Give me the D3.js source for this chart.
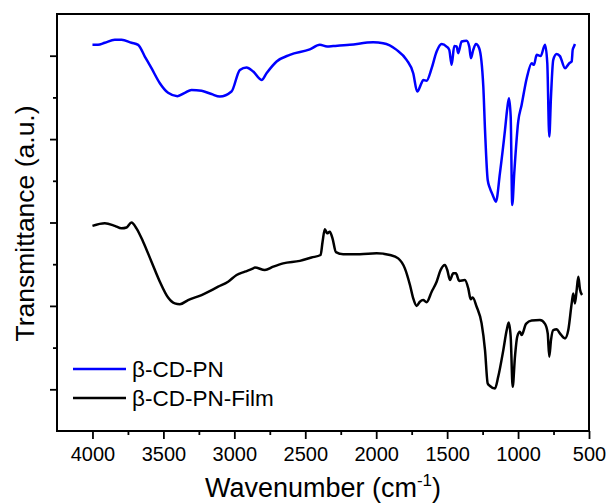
<!DOCTYPE html>
<html>
<head>
<meta charset="utf-8">
<script src="https://cdn.jsdelivr.net/npm/d3@7"></script>
<style>
  body { margin: 0; background: #fff; }
  svg { font-family: "Liberation Sans", Arial, sans-serif; }
</style>
</head>
<body>
<svg id="chart" width="609" height="504"></svg>
<script>
// FTIR spectra, wavenumber (cm-1) vs transmittance (arbitrary, offset)
const pnWave = [4000, 3961, 3913, 3843, 3795, 3725, 3678, 3631, 3584, 3525, 3467, 3401, 3349, 3302, 3231, 3161, 3102, 3020, 2961, 2914, 2867, 2808, 2773, 2702, 2609, 2468, 2397, 2346, 2303, 2186, 2021, 1951, 1856, 1786, 1739, 1711, 1680, 1669, 1645, 1609, 1574, 1539, 1504, 1485, 1468, 1450, 1433, 1422, 1398, 1363, 1344, 1332, 1316, 1297, 1274, 1245, 1233, 1214, 1198, 1179, 1156, 1128, 1092, 1076, 1064, 1052, 1041, 1027, 999, 975, 939, 904, 888, 869, 841, 810, 794, 780, 768, 752, 728, 705, 669, 639, 622, 615, 606, 599];
const pnTrans = [92.6, 92.6, 93.1, 93.8, 93.8, 93.1, 92.6, 89.8, 87.0, 83.4, 81.1, 80.3, 81.1, 81.8, 81.6, 80.8, 80.2, 81.4, 86.6, 87.2, 86.2, 84.2, 85.8, 88.6, 90.2, 91.5, 92.6, 92.2, 92.3, 92.6, 93.2, 93.0, 91.4, 89.0, 85.8, 81.4, 83.5, 84.2, 84.0, 87.0, 91.0, 92.8, 92.2, 91.4, 87.8, 92.3, 92.2, 90.6, 93.4, 93.6, 92.2, 89.4, 91.4, 92.8, 91.8, 82.6, 72.2, 60.2, 58.2, 56.6, 55.0, 61.8, 72.2, 77.4, 79.8, 75.4, 54.2, 61.8, 74.2, 78.2, 84.6, 88.2, 87.8, 90.2, 89.9, 92.6, 88.2, 70.6, 80.2, 89.0, 90.4, 89.9, 87.0, 88.2, 88.6, 91.4, 92.2, 92.8];

const filmWave = [4000, 3913, 3843, 3795, 3760, 3725, 3690, 3643, 3584, 3525, 3467, 3420, 3384, 3326, 3231, 3114, 3044, 2984, 2926, 2867, 2855, 2785, 2726, 2656, 2538, 2456, 2392, 2378, 2362, 2346, 2327, 2308, 2284, 2233, 2115, 1997, 1903, 1845, 1798, 1762, 1739, 1715, 1692, 1669, 1645, 1609, 1574, 1546, 1516, 1499, 1480, 1457, 1438, 1415, 1375, 1351, 1334, 1320, 1292, 1257, 1233, 1214, 1198, 1163, 1140, 1104, 1080, 1066, 1052, 1038, 1022, 1006, 987, 975, 944, 904, 846, 810, 791, 780, 768, 752, 728, 705, 669, 646, 622, 611, 599, 587, 575, 564, 549];
const filmTrans = [49.2, 49.8, 49.2, 48.6, 48.8, 50.0, 48.6, 45.4, 40.6, 35.8, 32.0, 30.6, 30.4, 31.4, 32.6, 34.6, 35.8, 37.4, 38.2, 39.0, 39.2, 38.6, 39.4, 40.2, 40.8, 41.6, 42.2, 45.4, 48.4, 47.4, 47.8, 46.2, 42.9, 42.4, 42.4, 42.6, 42.2, 41.4, 39.0, 35.0, 31.8, 30.0, 31.0, 31.4, 30.9, 33.4, 35.8, 38.6, 39.8, 38.6, 36.2, 37.8, 37.8, 36.0, 36.2, 34.2, 31.6, 32.0, 29.8, 25.8, 19.4, 11.4, 10.8, 10.2, 13.0, 19.4, 24.2, 26.0, 22.6, 10.6, 17.8, 22.6, 23.8, 23.0, 25.7, 26.5, 26.6, 25.7, 23.4, 17.8, 21.8, 24.2, 24.4, 23.4, 22.2, 24.2, 30.6, 33.0, 30.6, 33.8, 37.0, 34.0, 32.6];

const seriesNames = ["β-CD-PN", "β-CD-PN-Film"];
const seriesColors = ["#0000ff", "#000000"];
const xMajorTicks = [4000, 3500, 3000, 2500, 2000, 1500, 1000, 500];

margin = { left: 57, right: 20, top: 14, bottom: 73 };
width = 609, height = 504;

const svg = d3.select("#chart");

const x = d3.scaleLinear()
    .domain([4250, 500])
    .range([margin.left, width - margin.right]);

const y = d3.scaleLinear()
    .domain([0, 100])
    .range([height - margin.bottom, margin.top]);

// 次刻度 (minor ticks)
const xMinor = d3.range(4250, 500, -250).filter(v => !xMajorTicks.includes(v) && v < 4250);
const yMajor = [10, 30, 50, 70, 90];
const yMinor = [20, 40, 60, 80];

const xAxis = svg.append("g")
    .attr("transform", `translate(0, ${y(0)})`)
    .call(d3.axisBottom(x).tickValues(xMajorTicks).tickSize(8).tickPadding(8).tickFormat(d3.format("d")));
svg.append("g")
    .attr("transform", `translate(0, ${y(0)})`)
    .call(d3.axisBottom(x).tickValues(xMinor).tickSize(4).tickFormat(""));

svg.append("g")
    .attr("transform", `translate(${x(4250)}, 0)`)
    .call(d3.axisLeft(y).tickValues(yMajor).tickSize(7).tickFormat(""));
svg.append("g")
    .attr("transform", `translate(${x(4250)}, 0)`)
    .call(d3.axisLeft(y).tickValues(yMinor).tickSize(4).tickFormat(""));

svg.selectAll(".domain").remove();
svg.selectAll(".tick line").attr("stroke", "#000").attr("stroke-width", 1.8);
xAxis.selectAll("text")
    .style("font-size", "20px")
    .style("font-family", "Liberation Sans, Arial, sans-serif")
    .attr("fill", "#000");

// frame
svg.append("rect")
    .attr("x", x(4250))
    .attr("y", y(100))
    .attr("width", x(500) - x(4250))
    .attr("height", y(0) - y(100))
    .attr("fill", "none")
    .attr("stroke", "#000")
    .attr("stroke-width", 2);

const line = d3.line()
    .x(d => x(d[0]))
    .y(d => y(d[1]))
    .curve(d3.curveMonotoneX);

const series = [
    d3.zip(pnWave, pnTrans),
    d3.zip(filmWave, filmTrans)
];

svg.selectAll(".spectrum")
    .data(series)
    .enter()
    .append("path")
    .attr("class", "spectrum")
    .attr("d", line)
    .attr("fill", "none")
    .attr("stroke", (d, i) => seriesColors[i])
    .attr("stroke-width", 2.5)
    .attr("stroke-linejoin", "round");

// legend
const legend = svg.append("g").attr("transform", "translate(73, 369)");
seriesNames.forEach((name, i) => {
    const row = legend.append("g").attr("transform", `translate(0, ${i * 29})`);
    row.append("line")
        .attr("x1", 0).attr("x2", 53)
        .attr("y1", 0).attr("y2", 0)
        .attr("stroke", seriesColors[i])
        .attr("stroke-width", 2.5);
    row.append("text")
        .attr("x", 59)
        .attr("y", 0)
        .attr("dy", "0.35em")
        .style("font-size", "22.5px")
        .text(name);
});

// axis titles
const xTitle = svg.append("text")
    .attr("x", (x(4250) + x(500)) / 2 + 0)
    .attr("y", 497)
    .attr("text-anchor", "middle")
    .style("font-size", "27px");
xTitle.append("tspan").text("Wavenumber (cm");
xTitle.append("tspan").attr("dy", -11).style("font-size", "17px").text("-1");
xTitle.append("tspan").attr("dy", 11).text(")");

svg.append("text")
    .attr("transform", `translate(34, ${(y(0) + y(100)) / 2 + 1}) rotate(-90)`)
    .attr("text-anchor", "middle")
    .style("font-size", "26.5px")
    .text("Transmittance (a.u.)");
</script>
</body>
</html>
